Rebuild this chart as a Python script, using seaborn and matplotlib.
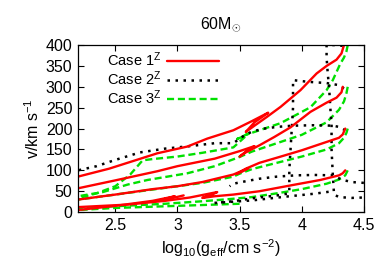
import matplotlib
matplotlib.use("Agg")
import matplotlib.pyplot as plt
import seaborn as sns
import pandas as pd
from matplotlib.lines import Line2D

# ---------------- data ----------------
# Case 1^Z (red, solid)
r1_x = [4.34, 4.32, 4.28, 4.20, 4.12, 3.99, 3.83, 3.72, 3.62, 3.55, 3.62, 3.73, 3.60, 3.45, 3.24, 3.08, 2.84, 2.64, 2.45, 2.20]
r1_y = [400, 380, 365, 350, 332, 292, 252, 228, 207, 192, 215, 238, 218, 196, 176, 157, 141, 122, 104, 85]
r2_x = [4.33, 4.32, 4.28, 4.20, 4.07, 3.91, 3.78, 3.66, 3.55, 3.50, 3.56, 3.62, 3.50, 3.30, 3.00, 2.84, 2.50, 2.20]
r2_y = [300, 287, 274, 262, 240, 203, 180, 160, 143, 133, 147, 158, 146, 128, 110, 98, 76, 57]
r3_x = [4.35, 4.33, 4.30, 4.20, 4.00, 3.82, 3.66, 3.55, 3.48, 3.52, 3.57, 3.45, 3.20, 3.00, 2.80, 2.50, 2.20]
r3_y = [200, 186, 178, 168, 148, 132, 118, 104, 92, 97, 105, 90, 72, 62, 55, 42, 30]
r4_x = [4.35, 4.33, 4.30, 4.15, 3.93, 3.66, 3.45, 3.30, 3.20, 3.28, 3.32, 3.10, 2.90, 2.60, 2.20]
r4_y = [100, 93, 88, 77, 65, 50, 42, 38, 34, 42, 48, 35, 27, 18, 12]
r5_x = [3.05, 2.95, 2.85, 2.92, 2.98, 2.80, 2.50, 2.20]
r5_y = [40, 33, 28, 33, 38, 27, 15, 5]

# Case 2^Z (black, dotted)
k1_x = [4.33, 4.27, 4.20, 4.20, 4.21, 4.22, 4.23, 4.24, 4.24, 4.25, 4.26, 4.30, 4.40, 4.50]
k1_y = [398, 400, 400, 370, 330, 300, 250, 210, 150, 90, 42, 36, 34, 35]
k2_x = [4.34, 4.30, 4.20, 4.05, 3.93, 3.93, 3.92, 3.91, 3.90, 3.90, 3.80, 3.60, 3.45, 3.30]
k2_y = [296, 304, 309, 312, 316, 250, 200, 150, 100, 45, 40, 33, 26, 22]
k3_x = [4.35, 4.30, 4.25, 4.10, 3.93, 3.80, 3.70, 3.60, 3.52, 3.45, 3.30, 3.10, 2.90, 2.70, 2.50, 2.35, 2.20]
k3_y = [196, 204, 207, 208, 207, 204, 200, 193, 180, 165, 165, 158, 152, 143, 125, 110, 100]
k4_x = [4.50, 4.40, 4.32, 4.25, 4.10, 3.95, 3.80, 3.66, 3.55, 3.45, 3.42]
k4_y = [70, 72, 78, 88, 89, 88, 85, 80, 74, 68, 62]
k5_x = [3.30, 3.60, 3.90, 4.10, 4.25]
k5_y = [22, 28, 38, 44, 50]

# Case 3^Z (green, dashed)
g1_x = [4.37, 4.36, 4.34, 4.31, 4.25, 4.20, 4.07, 3.83, 3.66, 3.55, 3.48, 3.52, 3.58, 3.45, 3.20, 3.00, 2.80, 2.72, 2.62, 2.50, 2.35, 2.20]
g1_y = [400, 385, 370, 355, 316, 292, 251, 213, 196, 185, 175, 180, 190, 155, 142, 133, 127, 124, 90, 62, 45, 33]
g2_x = [4.37, 4.36, 4.34, 4.30, 4.20, 4.00, 3.80, 3.60, 3.50, 3.30, 3.08, 2.76, 2.60, 2.40, 2.20]
g2_y = [300, 285, 265, 245, 215, 185, 165, 145, 132, 110, 93, 77, 66, 48, 38]
g3_x = [4.37, 4.36, 4.34, 4.30, 4.20, 4.00, 3.80, 3.60, 3.50, 3.45, 3.20, 3.00, 2.70, 2.50, 2.20]
g3_y = [200, 190, 178, 165, 150, 133, 118, 103, 92, 85, 70, 62, 50, 42, 30]
g4_x = [4.37, 4.35, 4.30, 4.20, 4.00, 3.80, 3.60, 3.45, 3.20, 2.90, 2.50, 2.20]
g4_y = [100, 88, 78, 68, 55, 45, 36, 32, 26, 20, 14, 10]
g5_x = [3.50, 3.30, 3.00, 2.50, 2.20]
g5_y = [20, 18, 15, 10, 5]

case_labels = ["Case 1$^{\\mathrm{Z}}$", "Case 2$^{\\mathrm{Z}}$", "Case 3$^{\\mathrm{Z}}$"]
title_text = "60M$_{\\odot}$"
x_ticks = [2.5, 3, 3.5, 4, 4.5]
x_tick_labels = ["2.5", "3", "3.5", "4", "4.5"]
y_ticks = [0, 50, 100, 150, 200, 250, 300, 350, 400]

tracks = {
    0: [(r1_x, r1_y), (r2_x, r2_y), (r3_x, r3_y), (r4_x, r4_y), (r5_x, r5_y)],
    1: [(k1_x, k1_y), (k2_x, k2_y), (k3_x, k3_y), (k4_x, k4_y), (k5_x, k5_y)],
    2: [(g1_x, g1_y), (g2_x, g2_y), (g3_x, g3_y), (g4_x, g4_y), (g5_x, g5_y)],
}

rows = []
for ci, tl in tracks.items():
    for ti, (xs, ys) in enumerate(tl):
        for i, (xv, yv) in enumerate(zip(xs, ys)):
            rows.append({"logg": xv, "v": yv, "case": ci, "track": f"{ci}-{ti}", "order": i})
df = pd.DataFrame(rows)

# ---------------- style ----------------
sns.set_theme(style="ticks")
plt.rcParams["font.family"] = ["Liberation Sans", "DejaVu Sans"]
plt.rcParams["mathtext.fontset"] = "custom"
plt.rcParams["mathtext.rm"] = "Liberation Sans"
plt.rcParams["mathtext.it"] = "Liberation Sans"
plt.rcParams["text.color"] = "black"
plt.rcParams["axes.labelcolor"] = "black"
plt.rcParams["xtick.color"] = "black"
plt.rcParams["ytick.color"] = "black"

colors = {0: "#ff0000", 1: "#000000", 2: "#00e000"}
styles = {0: "-", 1: (0, (1, 2.2)), 2: (0, (3, 1.6))}
widths = {0: 1.7, 1: 1.8, 2: 1.7}

fig = plt.figure(figsize=(3.9, 2.73), dpi=100)
ax = fig.add_axes([0.2, 0.223, 0.733, 0.612])

draw_order = [2, 1, 0]
for ci in draw_order:
    sub = df[df["case"] == ci]
    for tr, g in sub.groupby("track", sort=False):
        g = g.sort_values("order")
        sns.lineplot(data=g, x="logg", y="v", sort=False, estimator=None,
                     color=colors[ci], linestyle=styles[ci], linewidth=widths[ci],
                     ax=ax, legend=False)

ax.set_xlim(2.2, 4.5)
ax.set_ylim(0, 400)
ax.set_xticks(x_ticks)
ax.set_xticklabels(x_tick_labels)
ax.set_yticks(y_ticks)
ax.tick_params(direction="in", top=True, right=True, length=4, width=0.8,
               labelsize=11.5, pad=4, colors="black")
for s in ax.spines.values():
    s.set_linewidth(0.9)
    s.set_color("black")

ax.set_xlabel("log$_{10}$(g$_{\\mathrm{eff}}$/cm s$^{-2}$)", fontsize=11.5, labelpad=3)
ax.set_ylabel("v/km s$^{-1}$", fontsize=11.5, labelpad=3)
fig.text(0.567, 0.91, title_text, ha="center", va="center", fontsize=11.5)

handles = [Line2D([0], [0], color=colors[i], linestyle=styles[i], linewidth=widths[i]) for i in range(3)]
leg = ax.legend(handles, case_labels, loc="upper left", bbox_to_anchor=(0.08, 1.0),
                frameon=False, markerfirst=False, fontsize=10.5, handlelength=3.6,
                handletextpad=0.4, labelspacing=0.0, borderaxespad=0)

fig.savefig("out.png", dpi=100)
